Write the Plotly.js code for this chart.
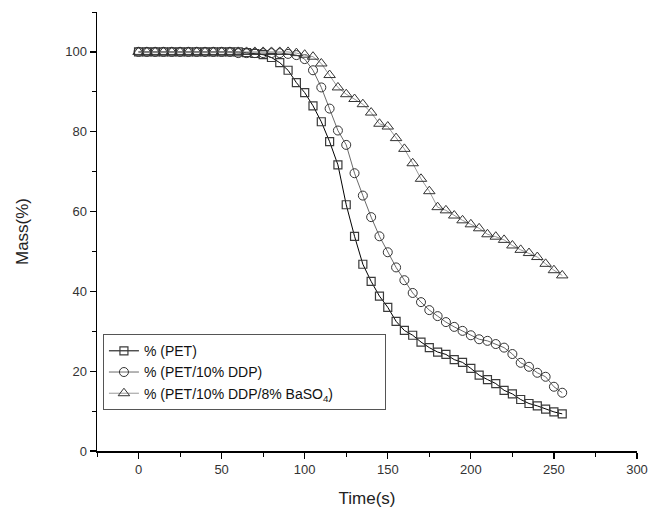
<!DOCTYPE html>
<html>
<head>
<meta charset="utf-8">
<script src="https://cdn.plot.ly/plotly-3.0.1.min.js"></script>
<style>html,body{margin:0;padding:0;background:#fff;}#chart{width:650px;height:512px;}</style>
</head>
<body>
<div id="chart"></div>
<script>
const time = [0,5,10,15,20,25,30,35,40,45,50,55,60,65,70,75,80,85,90,95,100,105,110,115,120,125,130,135,140,145,150,155,160,165,170,175,180,185,190,195,200,205,210,215,220,225,230,235,240,245,250,255];
const massPET = [100,100,100,100,100,100,100,100,100,100,100,100,100,99.8,99.6,99.3,98.6,97.3,95.4,92.3,89.8,86.5,82.5,77.5,71.7,61.7,53.8,46.8,42.5,38.8,36,32.5,30.2,29,27.3,25.9,24.8,24.2,22.9,22.2,20.7,19,17.9,16.9,15.2,14.3,12.9,11.9,11.3,10.5,9.8,9.3];
const massDDP = [100,100,100,100,100,100,100,100,100,100,100,100,99.7,99.7,99.7,99.7,99.7,99.7,99.5,99.2,98.2,95.4,91.1,85.8,80.3,76.7,69.6,64,58.6,53.8,49.8,46,42.8,39.6,37.3,35.3,33.8,32.3,31.1,30.1,29,28,27.6,26.8,25.9,24.3,22.1,21.1,19.6,18.6,16.1,14.6];
const massBa = [100,100,100,100,100,100,100,100,100,100,100,100,100,100,100,100,100,100,100,99.7,99.3,98.8,97.1,94.2,91.1,89.4,88.2,86.9,84.8,82,81.3,78.4,75.7,72.1,68.2,65.1,61.1,60.3,59,57.8,56.8,55.8,54.3,53.7,52.9,51.5,50.4,49.6,48.6,46.9,45.3,44];
const names = ['% (PET)', '% (PET/10% DDP)', '% (PET/10% DDP/8% BaSO<sub>4</sub>)'];
const xTickVals = [0,50,100,150,200,250,300];
const yTickVals = [0,20,40,60,80,100];

const pad = '\u00A0'.repeat(12);
const traces = [
  {x: time, y: massPET, name: names[0], mode: 'lines+markers',
   line: {color: '#000', width: 1},
   marker: {symbol: 'square-open', size: 8, color: '#3a3a3a', line: {width: 1.2, color: '#3a3a3a'}}},
  {x: time, y: massDDP, name: names[1], mode: 'lines+markers',
   line: {color: '#444', width: 0.8},
   marker: {symbol: 'circle-open', size: 9, color: '#333', line: {width: 1, color: '#333'}}},
  {x: time, y: massBa, name: names[2] + pad, mode: 'lines+markers',
   line: {color: '#999', width: 1},
   marker: {symbol: 'triangle-up-open', size: 10, color: '#333', line: {width: 1, color: '#333'}}}
];

const layout = {
  width: 650, height: 512,
  margin: {l: 97, r: 12.5, t: 12, b: 61},
  paper_bgcolor: '#fff', plot_bgcolor: '#fff',
  font: {family: 'Liberation Sans, Arial, sans-serif', color: '#222'},
  showlegend: true,
  legend: {x: 0.011, y: 0.266, xanchor: 'left', yanchor: 'top',
           bgcolor: '#fff', bordercolor: '#555', borderwidth: 1,
           font: {size: 14, color: '#111'}, tracegroupgap: 0},
  xaxis: {range: [-25, 300], tickvals: xTickVals, showgrid: false, zeroline: false,
          showline: true, linecolor: '#000', linewidth: 1.5,
          ticks: 'outside', ticklen: 6, tickwidth: 1.2, tickcolor: '#000',
          tickfont: {size: 13, color: '#333'},
          minor: {dtick: 25, tick0: 0, ticks: 'outside', ticklen: 4, tickwidth: 1, tickcolor: '#000', showgrid: false},
          title: {text: 'Time(s)', font: {size: 17, color: '#222', weight: 'normal'}, standoff: 16}},
  yaxis: {range: [0, 110], tickvals: yTickVals, showgrid: false, zeroline: false,
          showline: true, linecolor: '#000', linewidth: 1.5,
          ticks: 'outside', ticklen: 6, tickwidth: 1.2, tickcolor: '#000',
          tickfont: {size: 13, color: '#333'},
          minor: {dtick: 10, tick0: 0, ticks: 'outside', ticklen: 4, tickwidth: 1, tickcolor: '#000', showgrid: false},
          title: {text: 'Mass(%)', font: {size: 17, color: '#222', weight: 'normal'}, standoff: 32}}
};

Plotly.newPlot('chart', traces, layout, {displayModeBar: false, staticPlot: true});
</script>
</body>
</html>
